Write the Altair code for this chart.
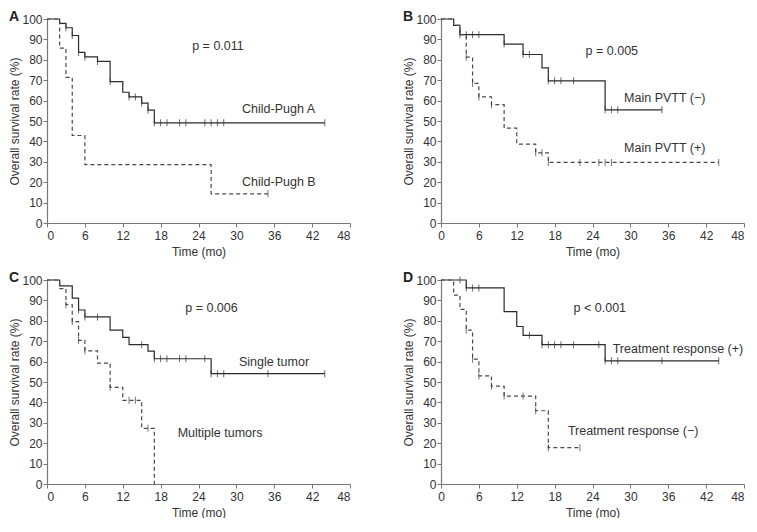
import altair as alt
import pandas as pd

# ---------------- data ----------------
x_ticks = [0, 6, 12, 18, 24, 30, 36, 42, 48]
y_ticks = [0, 10, 20, 30, 40, 50, 60, 70, 80, 90, 100]

# Panel A
A_solid_t = [0, 2, 3, 4, 5, 6, 8, 10, 12, 13, 15, 16, 17, 44]
A_solid_s = [100, 97.9, 95.7, 91.9, 83.6, 81.4, 79.2, 69.3, 64.1, 61.8, 58.8, 55.3, 49.1, 49.1]
A_solid_c = [3, 4, 5, 6, 8, 10, 13, 14, 15, 16, 17, 18, 19, 21, 22, 25, 26, 27, 28, 44]
A_dash_t = [0, 2, 3, 4, 6, 26, 35]
A_dash_s = [100, 85.7, 71.4, 42.9, 28.6, 14.3, 14.3]
A_dash_c = [35]

# Panel B
B_solid_t = [0, 2, 3, 10, 13, 16, 17, 26, 35]
B_solid_s = [100, 96.9, 92.3, 87.7, 82.6, 76.0, 69.7, 55.5, 55.5]
B_solid_c = [3, 4, 5, 6, 10, 13, 14, 17, 18, 19, 21, 26, 27, 28, 35]
B_dash_t = [0, 2, 3, 4, 5, 6, 8, 10, 12, 15, 17, 44]
B_dash_s = [100, 96.9, 92.3, 81.3, 68.4, 61.8, 58.0, 46.5, 38.7, 34.4, 29.7, 29.7]
B_dash_c = [4, 5, 6, 8, 15, 16, 17, 22, 25, 26, 27, 44]

# Panel C
C_solid_t = [0, 2, 4, 5, 6, 10, 12, 13, 16, 17, 26, 44]
C_solid_s = [100, 97.1, 91.1, 85.3, 81.9, 75.4, 71.9, 68.3, 65.1, 61.4, 54.1, 54.1]
C_solid_c = [5, 6, 8, 15, 17, 18, 19, 21, 22, 25, 26, 27, 28, 35, 44]
C_dash_t = [0, 2, 3, 4, 5, 6, 8, 10, 12, 15, 17]
C_dash_s = [100, 95.8, 87.9, 79.6, 70.4, 65.3, 59.3, 47.4, 41.0, 27.3, 0]
C_dash_c = [3, 4, 5, 6, 10, 13, 14, 16]

# Panel D
D_solid_t = [0, 4, 10, 12, 13, 16, 26, 44]
D_solid_s = [100, 96.1, 84.5, 77.2, 72.9, 68.3, 60.4, 60.4]
D_solid_c = [3, 4, 5, 6, 14, 16, 17, 18, 19, 21, 25, 26, 27, 28, 35, 44]
D_dash_t = [0, 2, 3, 4, 5, 6, 8, 10, 15, 17, 22]
D_dash_s = [100, 92.6, 85.6, 75.4, 61.2, 53.0, 48.0, 43.1, 35.9, 17.8, 17.8]
D_dash_c = [4, 5, 6, 8, 10, 13, 15, 17, 22]

# annotations: (text, time, survival)
A_notes = [("p = 0.011", 23, 87), ("Child-Pugh A", 30.9, 56), ("Child-Pugh B", 30.9, 20.3)]
B_notes = [("p = 0.005", 22.9, 84.5), ("Main PVTT (\u2212)", 29, 61.3), ("Main PVTT (+)", 29, 36.7)]
C_notes = [("p = 0.006", 21.9, 86.2), ("Single tumor", 30.4, 60), ("Multiple tumors", 20.7, 25)]
D_notes = [("p < 0.001", 21, 86.2), ("Treatment response (+)", 27.2, 66.2),
           ("Treatment response (\u2212)", 20.1, 25.9)]

FONT = "Liberation Sans"
W, H = 303, 204


def step_value(ts, ss, t):
    v = ss[0]
    for ti, si in zip(ts, ss):
        if ti <= t:
            v = si
    return v


def panel(letter, st, ss, sc, dt, ds, dc, notes, right=False):
    xs = alt.Scale(domain=[0, 48], nice=False)
    ys = alt.Scale(domain=[0, 100], nice=False)
    xax_kw = dict(values=x_ticks, tickCount=len(x_ticks), title="Time (mo)",
                  labelOverlap=False, labelPadding=3, titlePadding=5)
    if right:
        xax_kw["labelAlign"] = {"condition": {"test": "datum.value == 48", "value": "right"},
                                "value": "center"}
    xax = alt.Axis(**xax_kw)
    yax = alt.Axis(values=y_ticks, tickCount=len(y_ticks), title="Overall survival rate (%)",
                   labelOverlap=False, labelPadding=1, titleX=-26, titleY=H / 2,
                   titleBaseline="bottom")

    solid = pd.DataFrame({"t": st, "s": ss})
    dash = pd.DataFrame({"t": dt, "s": ds})
    solid_c = pd.DataFrame({"t": sc, "s": [step_value(st, ss, t) for t in sc]})
    dash_c = pd.DataFrame({"t": dc, "s": [step_value(dt, ds, t) for t in dc]})
    notes_df = pd.DataFrame(notes, columns=["label", "t", "s"])

    base_x = alt.X("t:Q", scale=xs, axis=xax)
    base_y = alt.Y("s:Q", scale=ys, axis=yax)

    l1 = alt.Chart(solid).mark_line(interpolate="step-after", color="#2b2b2b",
                                    strokeWidth=1.2).encode(x=base_x, y=base_y)
    l2 = alt.Chart(dash).mark_line(interpolate="step-after", color="#4a4a4a",
                                   strokeWidth=1.2, strokeDash=[4, 3]).encode(x=base_x, y=base_y)
    c1 = alt.Chart(solid_c).mark_tick(orient="vertical", size=7, thickness=1,
                                      color="#2b2b2b").encode(x=base_x, y=base_y)
    c2 = alt.Chart(dash_c).mark_tick(orient="vertical", size=7, thickness=1,
                                     color="#3a3a3a").encode(x=base_x, y=base_y)
    txt = alt.Chart(notes_df).mark_text(align="left", baseline="middle", font=FONT,
                                        fontSize=12.5, color="#333333").encode(
        x=alt.X("t:Q", scale=xs, axis=xax), y=alt.Y("s:Q", scale=ys, axis=yax),
        text="label:N")
    let = alt.Chart(pd.DataFrame({"l": [letter]})).mark_text(
        align="left", baseline="top", font=FONT, fontSize=14,
        fontWeight="bold", color="#222222").encode(
        text="l:N", x=alt.value(-38), y=alt.value(-9))
    return alt.layer(l1, l2, c1, c2, txt, let).properties(width=W, height=H)


A = panel("A", A_solid_t, A_solid_s, A_solid_c, A_dash_t, A_dash_s, A_dash_c, A_notes)
B = panel("B", B_solid_t, B_solid_s, B_solid_c, B_dash_t, B_dash_s, B_dash_c, B_notes, True)
C = panel("C", C_solid_t, C_solid_s, C_solid_c, C_dash_t, C_dash_s, C_dash_c, C_notes)
D = panel("D", D_solid_t, D_solid_s, D_solid_c, D_dash_t, D_dash_s, D_dash_c, D_notes, True)

chart = alt.vconcat(
    alt.hconcat(A, B, spacing=51),
    alt.hconcat(C, D, spacing=51),
    spacing=14,
).properties(padding={"left": 0, "top": 2, "right": 0, "bottom": 0}).configure_view(
    stroke=None
).configure_axis(
    grid=False, labelFont=FONT, titleFont=FONT, labelFontSize=12, titleFontSize=12,
    titleFontWeight="normal", labelColor="#333333", titleColor="#333333",
    domainColor="#777777", tickColor="#777777", tickSize=4,
    domainWidth=1.2,
)

chart.save("out.html", embed_options={"renderer": "svg", "actions": False})
